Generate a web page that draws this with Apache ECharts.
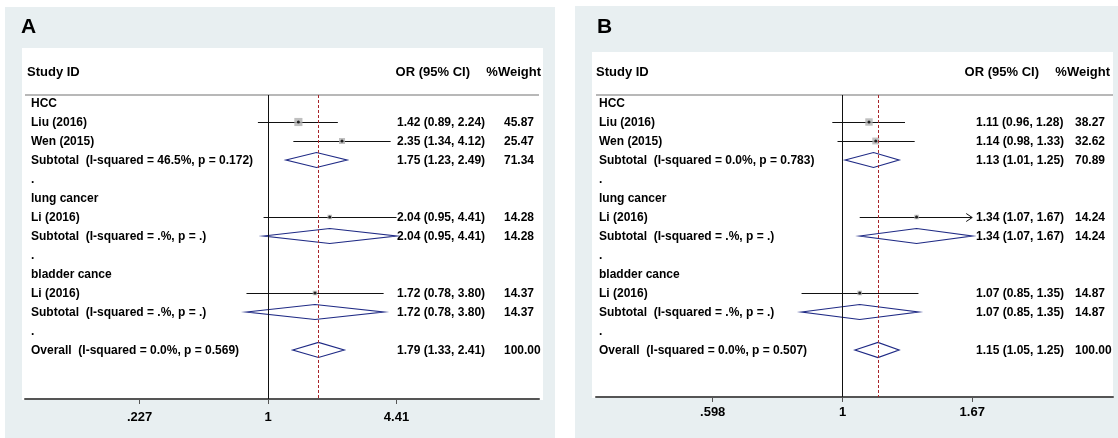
<!DOCTYPE html>
<html>
<head>
<meta charset="utf-8">
<script src="https://cdn.jsdelivr.net/npm/echarts@6/dist/echarts.min.js"></script>
<style>
  html, body { margin: 0; padding: 0; background: #fff; }
  .bg { position: absolute; background: #e8eff1; }
  .inner { position: absolute; background: #fff; }
  #chart { position: absolute; left: 0; top: 0; width: 1118px; height: 438px; }
</style>
</head>
<body>
<div class="bg" style="left:5px;top:7px;width:550px;height:431px"></div>
<div class="inner" style="left:22px;top:48px;width:521px;height:352px"></div>
<div class="bg" style="left:575px;top:6px;width:543px;height:432px"></div>
<div class="inner" style="left:592px;top:52px;width:521px;height:346px"></div>
<div id="chart"></div>
<script>
// row layout, same for both panels
const rowKinds = ['group', 'study', 'study', 'sub', 'gap', 'group', 'study', 'sub', 'gap', 'group', 'study', 'sub', 'gap', 'overall'];

// panel A
const labelsA = ['HCC', 'Liu (2016)', 'Wen (2015)', 'Subtotal  (I-squared = 46.5%, p = 0.172)', '.',
  'lung cancer', 'Li (2016)', 'Subtotal  (I-squared = .%, p = .)', '.',
  'bladder cance', 'Li (2016)', 'Subtotal  (I-squared = .%, p = .)', '.',
  'Overall  (I-squared = 0.0%, p = 0.569)'];
const orA = [null, 1.42, 2.35, 1.75, null, null, 2.04, 2.04, null, null, 1.72, 1.72, null, 1.79];
const loA = [null, 0.89, 1.34, 1.23, null, null, 0.95, 0.95, null, null, 0.78, 0.78, null, 1.33];
const hiA = [null, 2.24, 4.12, 2.49, null, null, 4.41, 4.41, null, null, 3.80, 3.80, null, 2.41];
const weightA = [null, 45.87, 25.47, 71.34, null, null, 14.28, 14.28, null, null, 14.37, 14.37, null, 100.00];
const arrowRowsA = [];
const tickValuesA = [0.227, 1, 4.41];
const tickLabelsA = ['.227', '1', '4.41'];

// panel B
const labelsB = ['HCC', 'Liu (2016)', 'Wen (2015)', 'Subtotal  (I-squared = 0.0%, p = 0.783)', '.',
  'lung cancer', 'Li (2016)', 'Subtotal  (I-squared = .%, p = .)', '.',
  'bladder cance', 'Li (2016)', 'Subtotal  (I-squared = .%, p = .)', '.',
  'Overall  (I-squared = 0.0%, p = 0.507)'];
const orB = [null, 1.11, 1.14, 1.13, null, null, 1.34, 1.34, null, null, 1.07, 1.07, null, 1.15];
const loB = [null, 0.96, 0.98, 1.01, null, null, 1.07, 1.07, null, null, 0.85, 0.85, null, 1.05];
const hiB = [null, 1.28, 1.33, 1.25, null, null, 1.67, 1.67, null, null, 1.35, 1.35, null, 1.25];
const weightB = [null, 38.27, 32.62, 70.89, null, null, 14.24, 14.24, null, null, 14.87, 14.87, null, 100.00];
const arrowRowsB = [6];
const tickValuesB = [0.598, 1, 1.67];
const tickLabelsB = ['.598', '1', '1.67'];

const FONT = '"Liberation Sans", Arial, Helvetica, sans-serif';
const navy = '#1f2a85';

const panels = [
  {
    title: 'A', labels: labelsA, or: orA, lo: loA, hi: hiA, weight: weightA, arrows: arrowRowsA,
    ticks: tickValuesA, tickLabels: tickLabelsA, labelMargin: 12,
    grid: { left: 25, top: 95, width: 514, height: 304 }, xRange: [-2.806, 3.129], yRange: [-0.421, 15.579],
    titleX: 21, headX: 27, orHeadRight: 470, wHeadRight: 541, labelX: 31, valueX: 397, weightX: 504
  },
  {
    title: 'B', labels: labelsB, or: orB, lo: loB, hi: hiB, weight: weightB, arrows: arrowRowsB,
    ticks: tickValuesB, tickLabels: tickLabelsB, labelMargin: 9,
    grid: { left: 596, top: 95, width: 517, height: 302 }, xRange: [-0.976, 1.070], yRange: [-0.421, 15.474],
    titleX: 597, headX: 596, orHeadRight: 1039, wHeadRight: 1110, labelX: 599, valueX: 976, weightX: 1075
  }
];

const chart = echarts.init(document.getElementById('chart'));

const grids = [], xAxes = [], yAxes = [], series = [], graphics = [];

panels.forEach((p, pi) => {
  grids.push(Object.assign({ containLabel: false }, p.grid));

  const tickLn = p.ticks.map(t => Math.log(t));
  xAxes.push({
    type: 'value', gridIndex: pi, min: p.xRange[0], max: p.xRange[1],
    splitLine: { show: false },
    axisLine: { show: true, onZero: false, lineStyle: { color: '#555', width: 2 } },
    axisTick: { show: true, customValues: tickLn, length: 5, lineStyle: { color: '#555', width: 1 } },
    axisLabel: {
      customValues: tickLn, margin: p.labelMargin, color: '#000', fontWeight: 'bold', fontSize: 13, fontFamily: FONT,
      formatter: v => {
        const i = tickLn.findIndex(t => Math.abs(t - v) < 1e-6);
        return i >= 0 ? p.tickLabels[i] : '';
      }
    }
  });
  yAxes.push({ type: 'value', gridIndex: pi, inverse: true, min: p.yRange[0], max: p.yRange[1], show: false });

  const rows = rowKinds.map((k, i) => i);
  const studyRows = rows.filter(i => rowKinds[i] === 'study');
  const poolRows = rows.filter(i => rowKinds[i] === 'sub' || rowKinds[i] === 'overall');
  const overallRow = rowKinds.indexOf('overall');

  // reference lines: null line at OR = 1, dashed line at overall estimate, header separator
  series.push({
    type: 'line', xAxisIndex: pi, yAxisIndex: pi, data: [], silent: true,
    markLine: {
      symbol: 'none', silent: true, label: { show: false }, animation: false,
      data: [
        { yAxis: p.yRange[0], lineStyle: { color: '#b8b8b8', width: 2, type: 'solid' } },
        { xAxis: 0, lineStyle: { color: '#111', width: 1, type: 'solid' } },
        { xAxis: Math.log(p.or[overallRow]), lineStyle: { color: '#a8252a', width: 1, type: [3, 2] } }
      ]
    }
  });

  // confidence intervals of single studies
  series.push({
    type: 'custom', xAxisIndex: pi, yAxisIndex: pi, clip: false, silent: true,
    encode: { x: [1, 2], y: 0 },
    data: studyRows.map(i => [i, Math.log(p.lo[i]), Math.log(p.hi[i]), p.arrows.includes(i) ? 1 : 0]),
    renderItem: (params, api) => {
      const y = Math.round(api.coord([0, api.value(0)])[1]) + 0.5;
      const x1 = api.coord([api.value(1), 0])[0];
      const x2 = api.coord([api.value(2), 0])[0];
      const children = [{ type: 'line', shape: { x1: x1, y1: y, x2: x2, y2: y }, style: { stroke: '#111', lineWidth: 1 } }];
      if (api.value(3)) {
        children.push({ type: 'polyline', shape: { points: [[x2 - 6, y - 4], [x2, y], [x2 - 6, y + 4]] },
          style: { stroke: '#111', fill: null, lineWidth: 1 } });
      }
      return { type: 'group', children: children };
    }
  });

  // weight boxes
  series.push({
    type: 'scatter', xAxisIndex: pi, yAxisIndex: pi, symbol: 'rect', silent: true,
    itemStyle: { color: '#b0b0b0' },
    data: studyRows.map(i => ({ value: [Math.log(p.or[i]), i], symbolSize: 1.2 * Math.sqrt(p.weight[i]) }))
  });
  // point estimates
  series.push({
    type: 'scatter', xAxisIndex: pi, yAxisIndex: pi, symbol: 'circle', symbolSize: 3, silent: true,
    itemStyle: { color: '#000' },
    data: studyRows.map(i => [Math.log(p.or[i]), i])
  });

  // pooled diamonds
  series.push({
    type: 'custom', xAxisIndex: pi, yAxisIndex: pi, clip: false, silent: true,
    encode: { x: [1, 2, 3], y: 0 },
    data: poolRows.map(i => [i, Math.log(p.lo[i]), Math.log(p.or[i]), Math.log(p.hi[i])]),
    renderItem: (params, api) => {
      const y = api.coord([0, api.value(0)])[1];
      const xl = api.coord([api.value(1), 0])[0];
      const xm = api.coord([api.value(2), 0])[0];
      const xr = api.coord([api.value(3), 0])[0];
      return {
        type: 'polygon', shape: { points: [[xl, y], [xm, y - 7.5], [xr, y], [xm, y + 7.5]] },
        style: { stroke: navy, fill: null, lineWidth: 1.2 }
      };
    }
  });

  // table text: study labels, OR (95% CI), weights
  series.push({
    type: 'custom', xAxisIndex: pi, yAxisIndex: pi, clip: false, silent: true, z: 5,
    encode: { y: 0 },
    data: rows.map(i => [i]),
    renderItem: (params, api) => {
      const i = api.value(0);
      const y = api.coord([0, i])[1] + 1;
      const font = 'bold 12px ' + FONT;
      const children = [{
        type: 'text', x: p.labelX, y: y,
        style: { text: p.labels[i], font: font, fill: '#000', verticalAlign: 'middle', align: 'left' }
      }];
      if (p.or[i] != null) {
        children.push({
          type: 'text', x: p.valueX, y: y,
          style: { text: p.or[i].toFixed(2) + ' (' + p.lo[i].toFixed(2) + ', ' + p.hi[i].toFixed(2) + ')',
            font: font, fill: '#000', verticalAlign: 'middle', align: 'left' }
        });
        children.push({
          type: 'text', x: p.weightX, y: y,
          style: { text: p.weight[i].toFixed(2), font: font, fill: '#000', verticalAlign: 'middle', align: 'left' }
        });
      }
      return { type: 'group', children: children };
    }
  });

  // panel letter and column headers
  const head = 'bold 13px ' + FONT;
  graphics.push(
    { type: 'text', x: p.titleX, y: 27, style: { text: p.title, font: 'bold 21px ' + FONT, fill: '#000', verticalAlign: 'middle' } },
    { type: 'text', x: p.headX, y: 72, style: { text: 'Study ID', font: head, fill: '#000', verticalAlign: 'middle' } },
    { type: 'text', x: p.orHeadRight, y: 72, style: { text: 'OR (95% CI)', font: head, fill: '#000', verticalAlign: 'middle', align: 'right' } },
    { type: 'text', x: p.wHeadRight, y: 72, style: { text: '%Weight', font: head, fill: '#000', verticalAlign: 'middle', align: 'right' } }
  );
});

chart.setOption({
  animation: false,
  backgroundColor: 'transparent',
  grid: grids,
  xAxis: xAxes,
  yAxis: yAxes,
  series: series,
  graphic: graphics
});

window.addEventListener('resize', () => chart.resize());
</script>
</body>
</html>
